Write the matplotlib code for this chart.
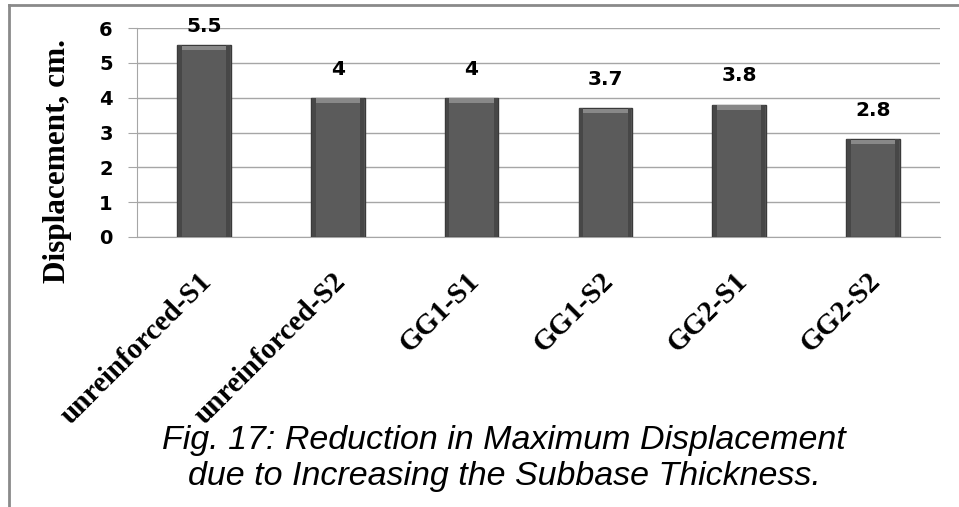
import matplotlib.pyplot as plt
import matplotlib.transforms as mtransforms
from matplotlib.lines import Line2D
import numpy as np

categories = ['unreinforced-S1', 'unreinforced-S2', 'GG1-S1', 'GG1-S2', 'GG2-S1', 'GG2-S2']
displacement = [5.5, 4, 4, 3.7, 3.8, 2.8]
value_labels = ['5.5', '4', '4', '3.7', '3.8', '2.8']
y_ticks = [0, 1, 2, 3, 4, 5, 6]

fig = plt.figure(figsize=(9.59, 5.07), dpi=100)
ax = fig.add_axes([137/959, 1 - 237/507, (940-137)/959, (237-28)/507])

x = np.arange(len(categories))
w = 0.40
ax.bar(x, displacement, width=w, color='#5b5b5b', edgecolor='#3a3a3a', linewidth=1.0, zorder=3)
# bevel highlight at the top of each bar
ax.bar(x, [0.12]*len(x), bottom=np.array(displacement)-0.14, width=w*0.9,
       color='#888888', linewidth=0, zorder=4)
# darker side shading
ax.bar(x - w*0.45, displacement, width=w*0.07, color='#474747', linewidth=0, zorder=4)
ax.bar(x + w*0.45, displacement, width=w*0.07, color='#474747', linewidth=0, zorder=4)

for xi, v, lab in zip(x, displacement, value_labels):
    yt = min(v + 0.55, 5.78)
    ax.text(xi, yt, lab, ha='center', va='bottom', fontsize=14.5, fontweight='bold',
            family='DejaVu Sans', color='black')

ax.set_xlim(-0.5, len(categories) - 0.5)
ax.set_ylim(0, 6)
ax.set_yticks(y_ticks)
ax.set_yticklabels([str(t) for t in y_ticks], fontsize=14, fontweight='bold')
ax.yaxis.grid(True, color='#a6a6a6', linewidth=1.0, zorder=0)
ax.set_axisbelow(True)
ax.tick_params(axis='y', length=6.5, color='#a6a6a6', pad=11)
ax.tick_params(axis='x', length=0, pad=4)
for s in ['top', 'right']:
    ax.spines[s].set_visible(False)
ax.spines['left'].set_color('#a6a6a6')
ax.spines['bottom'].set_color('#a6a6a6')

ax.set_xticks(x)
ax.set_xticklabels(categories, rotation=45, ha='right', rotation_mode='anchor',
                   family='Liberation Serif', fontweight='bold', fontsize=21)
shift = mtransforms.ScaledTranslation(-6/100, -25/100, fig.dpi_scale_trans)
for lbl in ax.get_xticklabels():
    lbl.set_transform(lbl.get_transform() + shift)

fig.text(57/959, 1 - 161/507, 'Displacement, cm.', rotation=90, ha='center', va='center',
         family='Liberation Serif', fontweight='bold', fontsize=22.5)

fig.text(504/959, 1 - 441/507, 'Fig. 17: Reduction in Maximum Displacement',
         ha='center', va='center', fontsize=24.5, style='italic', family='Liberation Sans')
fig.text(504/959, 1 - 477/507, 'due to Increasing the Subbase Thickness.',
         ha='center', va='center', fontsize=24.5, style='italic', family='Liberation Sans')

# outer frame lines
fig.add_artist(Line2D([9/959, 1], [1 - 5/507, 1 - 5/507], color='#8a8a8a', linewidth=2, transform=fig.transFigure))
fig.add_artist(Line2D([9/959, 9/959], [0, 1 - 5/507], color='#8a8a8a', linewidth=2, transform=fig.transFigure))

fig.savefig('out.png', dpi=100)
